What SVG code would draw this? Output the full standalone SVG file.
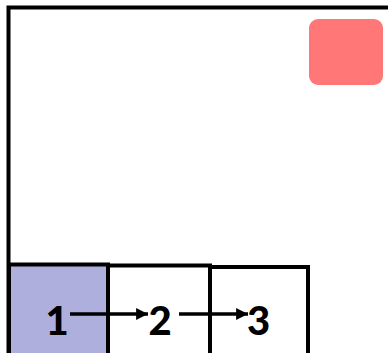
<svg xmlns="http://www.w3.org/2000/svg" width="388" height="353" viewBox="0 0 388 353">
  <defs>
    <marker id="ah" viewBox="0 0 10 10" refX="10" refY="5" markerWidth="3.4" markerHeight="3.8" orient="auto" markerUnits="strokeWidth">
      <path d="M0,0 L10,5 L0,10 Z" fill="#000"/>
    </marker>
  </defs>
  <style>
    .cell { stroke: #000; stroke-width: 4; }
    .num { font-family: Lato, "DejaVu Sans", sans-serif; font-weight: 900; font-size: 40px; fill: #000; text-anchor: middle; }
    .conn { stroke: #000; stroke-width: 3.5; fill: none; marker-end: url(#ah); }
  </style>
  <rect width="388" height="353" fill="#fff"/>
  <g id="frame">
    <path d="M8.5,360 L8.5,7.5 L392,7.5" fill="none" stroke="#000" stroke-width="4"/>
  </g>
  <g id="goal">
    <rect x="309" y="19" width="74" height="66" rx="9" fill="#FF7777"/>
  </g>
  <g id="cell1">
    <rect class="cell" x="9" y="264.5" width="99" height="100" fill="#AFAFDD"/>
    <text class="num" x="57" y="335">1</text>
  </g>
  <g id="cell2">
    <rect class="cell" x="108" y="265.5" width="102" height="100" fill="none"/>
    <text class="num" x="160" y="335">2</text>
  </g>
  <g id="cell3">
    <rect class="cell" x="210" y="267" width="98" height="100" fill="none"/>
    <text class="num" x="258.5" y="335">3</text>
  </g>
  <g id="connectors">
    <line class="conn" x1="70" y1="314" x2="148" y2="314"/>
    <line class="conn" x1="179" y1="314" x2="248" y2="314"/>
  </g>
</svg>
